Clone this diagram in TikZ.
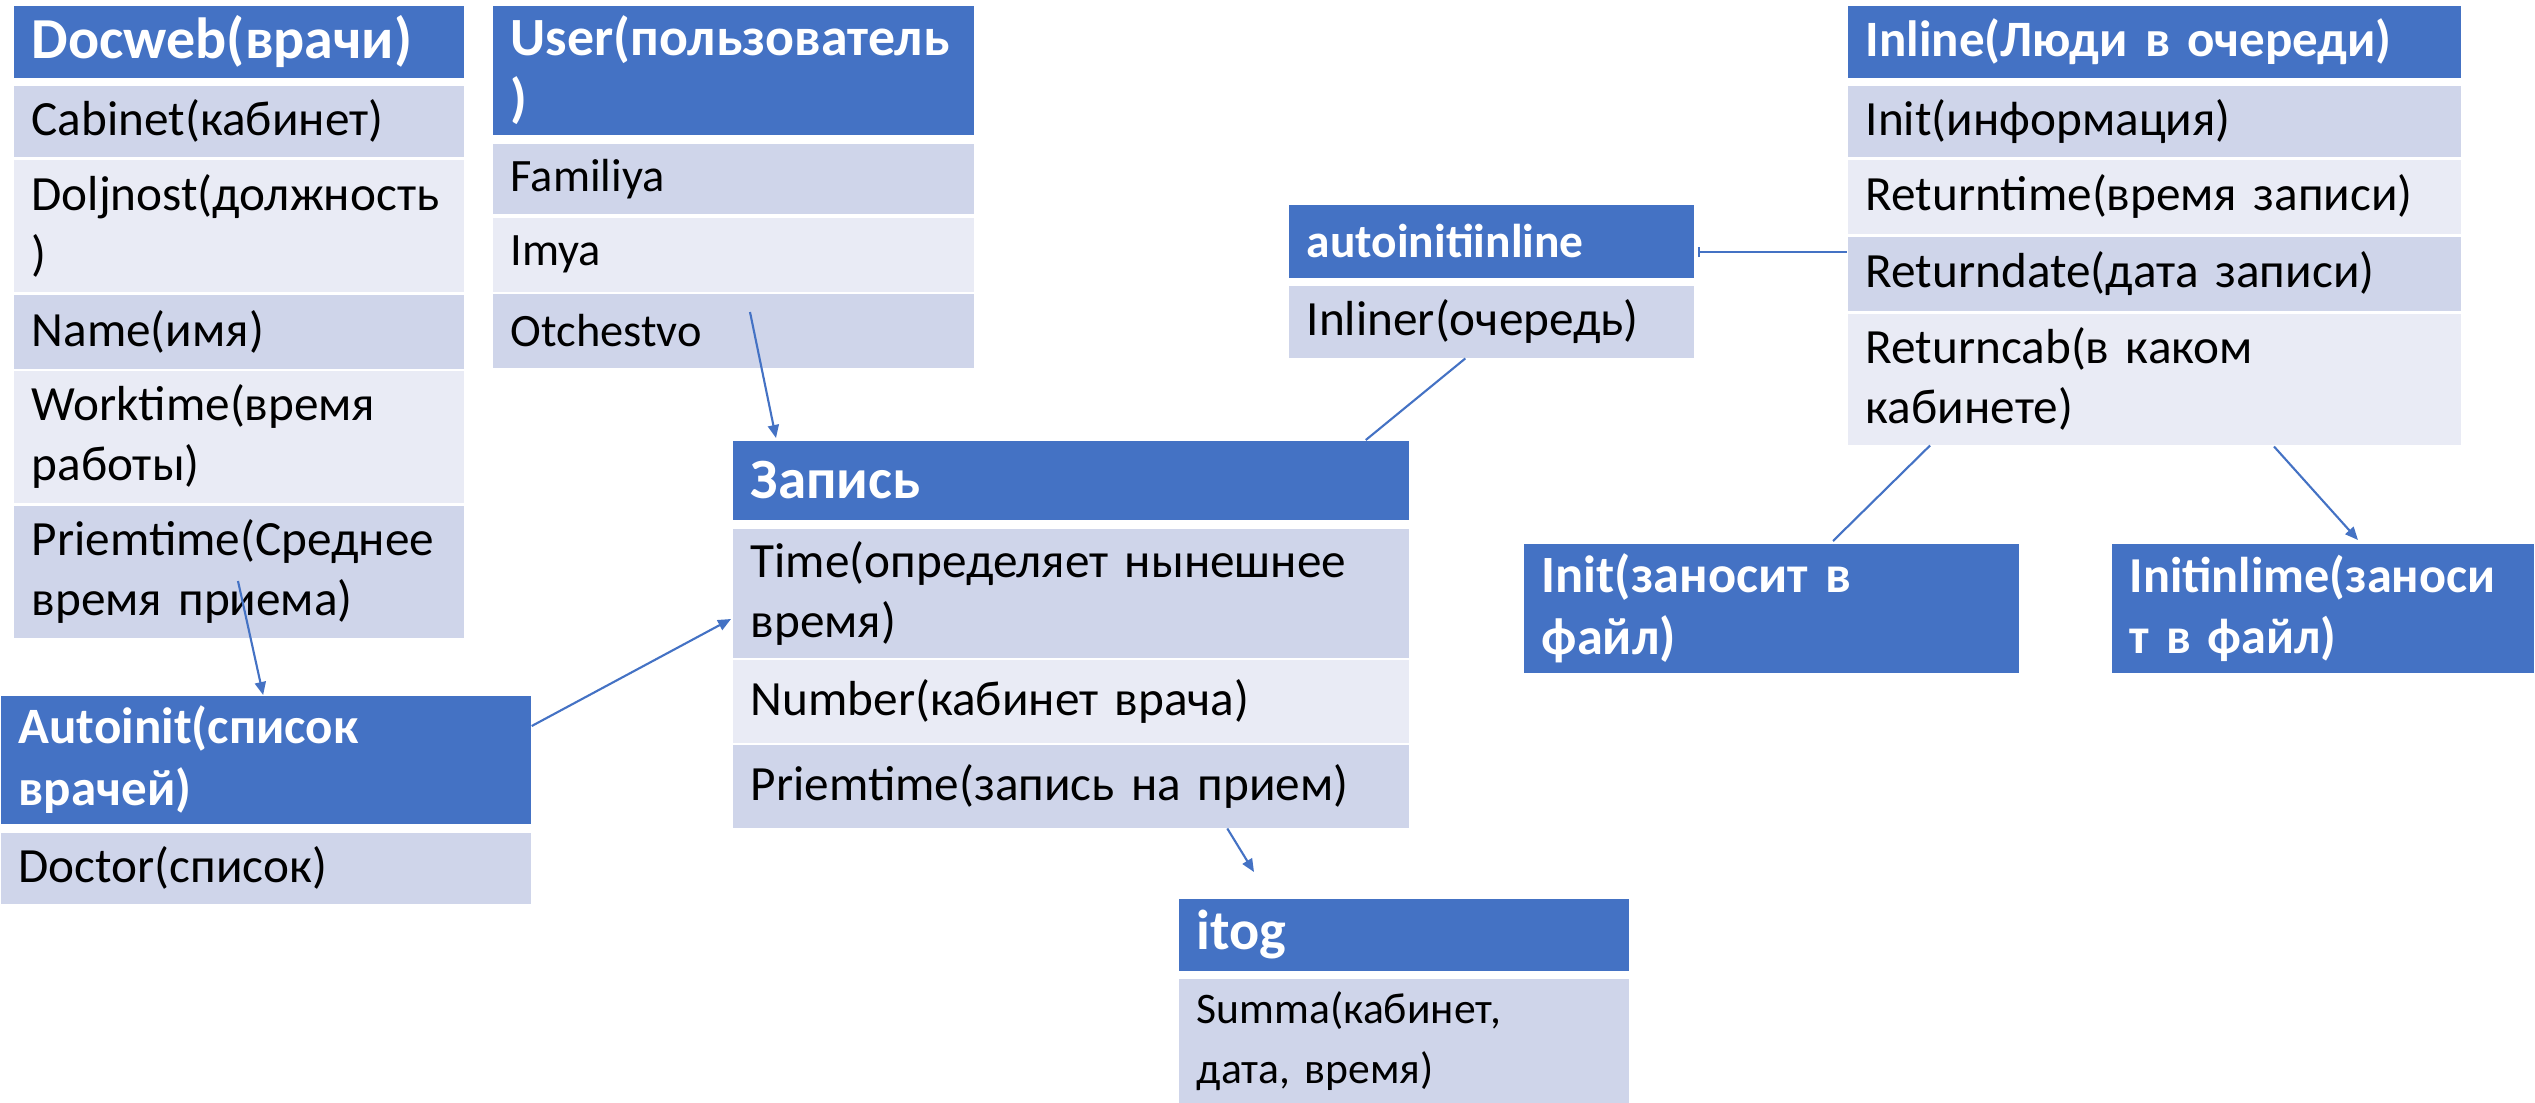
\documentclass[tikz,border=0pt]{standalone}
\usepackage{fontspec}
\setmainfont{Carlito}
\usetikzlibrary{arrows.meta}
\definecolor{hd}{HTML}{4472C4}
\definecolor{rd}{HTML}{CFD5EA}
\definecolor{rl}{HTML}{E9EBF5}
\hyphenpenalty=10000
\exhyphenpenalty=10000
\begin{document}
\begin{tikzpicture}[x=0.01cm,y=-0.01cm,
    cell/.style={anchor=north west,inner xsep=0.18cm,inner ysep=0pt,align=left,
        font=\fontsize{14}{17}\selectfont},
    head/.style={cell,fill=hd,text=white,hfont=14.5},
    hfont/.style={font=\bfseries\fontsize{#1}{17.5}\selectfont},
    bfont/.style={font=\fontsize{#1}{17}\selectfont},
    rowd/.style={cell,fill=rd},
    rowl/.style={cell,fill=rl},
    link/.style={draw=hd,line width=0.6pt},
    arr/.style={link,-{Triangle[length=0.13cm,width=0.11cm]}}]
    \useasboundingbox (0,0) rectangle (2535,1102);
    % Docweb
    \node[head,hfont=16.5,text width=4.14cm,minimum height=0.72cm] (doc)  at (13,5)   {Docweb(врачи)};
    \node[rowd,text width=4.14cm,minimum height=0.71cm] (doc1) at (13,85)  {Cabinet(кабинет)};
    \node[rowl,text width=4.14cm,minimum height=1.32cm] (doc2) at (13,159) {Doljnost(должность\\)};
    \node[rowd,text width=4.14cm,minimum height=0.74cm] (doc3) at (13,294) {Name(имя)};
    \node[rowl,text width=4.14cm,minimum height=1.32cm] (doc4) at (13,370) {Worktime(время\\работы)};
    \node[rowd,text width=4.14cm,minimum height=1.32cm] (doc5) at (13,505) {Priemtime(Среднее\\время приема)};
    % User
    \node[head,hfont=15.3,text width=4.45cm,minimum height=1.29cm] (usr)  at (492,5)   {User(пользователь\\)};
    \node[rowd,bfont=13.2,text width=4.45cm,minimum height=0.70cm] (usr1) at (492,143) {Familiya};
    \node[rowl,bfont=13.2,text width=4.45cm,minimum height=0.74cm] (usr2) at (492,217) {Imya};
    \node[rowd,bfont=13.2,text width=4.45cm,minimum height=0.74cm] (usr3) at (492,293) {Otchestvo};
    % Autoinit
    \node[head,text width=4.94cm,minimum height=1.28cm] (auto)  at (0,695) {Autoinit(список\\врачей)};
    \node[rowd,text width=4.94cm,minimum height=0.71cm] (auto1) at (0,832) {Doctor(список)};
    % Zapis
    \node[head,hfont=16.2,text width=6.40cm,minimum height=0.79cm] (zap)  at (732,440) {Запись};
    \node[rowd,text width=6.40cm,minimum height=1.29cm] (zap1) at (732,528) {Time(определяет нынешнее\\время)};
    \node[rowl,text width=6.40cm,minimum height=0.83cm] (zap2) at (732,659) {Number(кабинет врача)};
    \node[rowd,text width=6.40cm,minimum height=0.83cm] (zap3) at (732,744) {Priemtime(запись на прием)};
    % itog
    \node[head,hfont=16,text width=4.14cm,minimum height=0.72cm] (itog)  at (1178,898) {itog};
    \node[rowd,bfont=12.4,text width=4.14cm,minimum height=1.24cm] (itog1) at (1178,978) {Summa(кабинет,\\дата, время)};
    % autoinitiinline
    \node[head,hfont=13.5,text width=3.69cm,minimum height=0.73cm] (ail)  at (1288,204) {autoinitiinline};
    \node[rowd,text width=3.69cm,minimum height=0.72cm] (ail1) at (1288,285) {Inliner(очередь)};
    % Inline
    \node[head,text width=5.77cm,minimum height=0.72cm] (inl)  at (1847,5)   {Inline(Люди в очереди)};
    \node[rowd,text width=5.77cm,minimum height=0.71cm] (inl1) at (1847,85)  {Init(информация)};
    \node[rowl,text width=5.77cm,minimum height=0.74cm] (inl2) at (1847,159) {Returntime(время записи)};
    \node[rowd,text width=5.77cm,minimum height=0.74cm] (inl3) at (1847,236) {Returndate(дата записи)};
    \node[rowl,text width=5.77cm,minimum height=1.31cm] (inl4) at (1847,313) {Returncab(в каком\\кабинете)};
    % files
    \node[head,hfont=14.9,text width=4.59cm,minimum height=1.29cm] (init)  at (1523,543) {Init(заносит в\\файл)};
    \node[head,hfont=14.3,text width=3.86cm,minimum height=1.29cm] (initl) at (2111,543) {Initinlime(заноси\\т в файл)};
    \coordinate (itogin) at (1254,872);
    % links
    \draw[arr] ([shift={(225,76)}]doc5.north west) -- ([xshift=2.63cm]auto.north west);
    \draw[arr] ([shift={(258,19)}]usr3.north west) -- ([shift={(44,-2)}]zap.north west);
    \draw[arr] ([shift={(0,31)}]auto.north east) -- ([shift={(-1,91)}]zap1.north west);
    \draw[link] ([xshift=-0.26cm]ail1.south) -- ([xshift=-0.44cm]zap.north east);
    \draw[link,{Bar[width=0.1cm]}-] ([shift={(3,48)}]ail.north east) -- ([shift={(0,16)}]inl3.north west);
    \draw[link] ([xshift=0.83cm]inl4.south west) -- ([shift={(310,-2)}]init.north west);
    \draw[arr] ([shift={(427,1)}]inl4.south west) -- ([shift={(247,-3)}]initl.north west);
    \draw[arr] ([xshift=4.95cm]zap3.south west) -- (itogin);
\end{tikzpicture}
\end{document}
